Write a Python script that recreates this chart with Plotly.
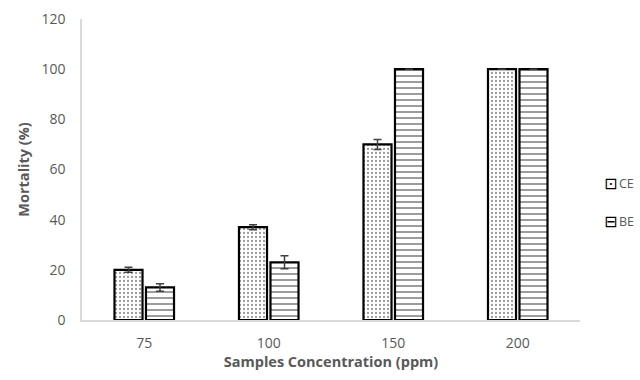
import plotly.graph_objects as go

categories = ["75", "100", "150", "200"]
series_names = ["CE", "BE"]
ce_values = [20, 37, 70, 100]
ce_errors = [1.0, 1.0, 2.0, 0]
be_values = [13, 23, 100, 100]
be_errors = [1.5, 2.6, 0, 0]
y_ticks = [0, 20, 40, 60, 80, 100, 120]

font_family = "Open Sans, sans-serif"
gray = "#595959"

fig = go.Figure()
fig.add_trace(go.Bar(
    name=series_names[0], x=categories, y=ce_values,
    error_y=dict(type="data", array=ce_errors, color="#404040", thickness=1.5, width=4),
    marker=dict(color="white", line=dict(color="black", width=2.2),
                pattern=dict(shape=".", fgcolor="#333333", bgcolor="white", size=4, solidity=0.25)),
))
fig.add_trace(go.Bar(
    name=series_names[1], x=categories, y=be_values,
    error_y=dict(type="data", array=be_errors, color="#404040", thickness=1.5, width=4),
    marker=dict(color="white", line=dict(color="black", width=2.2),
                pattern=dict(shape="-", fgcolor="#222222", bgcolor="white", size=6, solidity=0.3)),
))

# legend drawn as text next to small glyph keys
legend_keys = ["⊡", "⊟"]
legend_y = [0.455, 0.326]
annotations = []
for name, key, ly in zip(series_names, legend_keys, legend_y):
    annotations.append(dict(text=key, x=1.061, y=ly, xref="paper", yref="paper",
                            xanchor="center", yanchor="middle", showarrow=False,
                            font=dict(family="DejaVu Sans", size=16, color="black")))
    annotations.append(dict(text=name, x=1.074, y=ly, xref="paper", yref="paper",
                            xanchor="left", yanchor="middle", showarrow=False,
                            font=dict(family=font_family, size=12.5, color=gray)))

fig.update_layout(
    width=640, height=380,
    margin=dict(l=82, r=60, t=19, b=60, autoexpand=False),
    paper_bgcolor="white", plot_bgcolor="white",
    barmode="group", bargap=0.494, bargroupgap=0.11,
    font=dict(family=font_family, color=gray, size=14),
    showlegend=False,
    annotations=annotations,
    xaxis=dict(
        title=dict(text="<b>Samples Concentration (ppm)</b>", font=dict(size=14.5, color=gray), standoff=4),
        showline=True, linecolor="#d9d9d9", linewidth=1.5, automargin=False,
        ticks="outside", ticklen=9, tickcolor="rgba(0,0,0,0)", showgrid=False,
        tickfont=dict(size=14, color=gray),
    ),
    yaxis=dict(
        title=dict(text="<b>Mortality (%)</b>", font=dict(size=14.5, color=gray), standoff=8),
        range=[0, 120], tickvals=y_ticks, automargin=False,
        showline=True, linecolor="#d9d9d9", linewidth=1.5,
        ticks="outside", ticklen=12, tickcolor="rgba(0,0,0,0)", showgrid=False, zeroline=False,
        tickfont=dict(size=14, color=gray),
    ),
)

fig.write_html("out.html", config={"displayModeBar": False},
               post_script="document.body.style.margin='0';document.body.style.overflow='hidden';")
